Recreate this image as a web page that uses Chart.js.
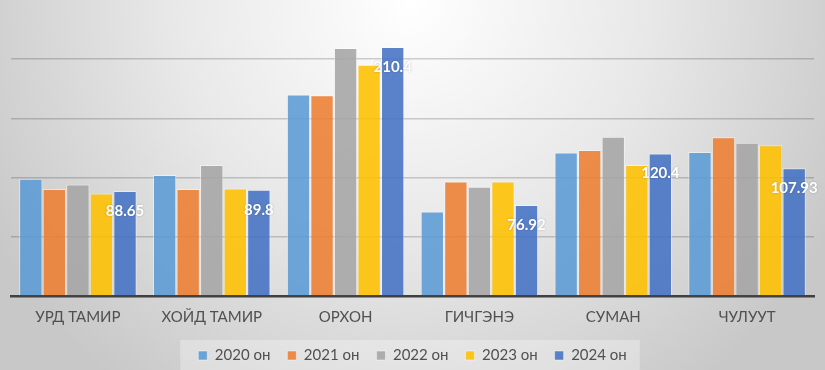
<!DOCTYPE html>
<html>
<head>
<meta charset="utf-8">
<script src="https://cdn.jsdelivr.net/npm/chart.js@4.4.0/dist/chart.umd.min.js"></script>
<style>
html,body{margin:0;padding:0;background:#d9d9d9;}
#wrap{width:825px;height:370px;position:relative;}
</style>
</head>
<body>
<div id="wrap"><canvas id="c" width="825" height="370"></canvas></div>
<script>
const categories = ["УРД ТАМИР", "ХОЙД ТАМИР", "ОРХОН", "ГИЧГЭНЭ", "СУМАН", "ЧУЛУУТ"];
const seriesNames = ["2020 он", "2021 он", "2022 он", "2023 он", "2024 он"];
const values2020 = [99.0, 102.1, 170.2, 71.3, 121.3, 121.6];
const values2021 = [90.3, 90.3, 169.6, 96.8, 123.3, 134.1];
const values2022 = [94.2, 110.6, 209.5, 92.2, 134.6, 129.5];
const values2023 = [86.6, 90.8, 195.3, 96.8, 110.6, 127.3];
const values2024 = [88.65, 89.8, 210.4, 76.92, 120.4, 107.93];
const yTicks = [0, 50, 100, 150, 200, 250];

const colors = ["rgba(91,155,213,0.88)", "rgba(237,125,49,0.88)", "rgba(165,165,165,0.88)", "rgba(255,192,0,0.88)", "rgba(68,114,196,0.88)"];
const allValues = [values2020, values2021, values2022, values2023, values2024];

const bgPlugin = {
  id: 'bg',
  beforeDraw(chart) {
    const ctx = chart.ctx;
    const w = chart.width, h = chart.height;
    ctx.save();
    const g = ctx.createRadialGradient(410, 0, 0, 410, 0, 480);
    g.addColorStop(0, '#ffffff');
    g.addColorStop(0.5, '#e8e8e8');
    g.addColorStop(1, '#c8c8c8');
    ctx.fillStyle = g;
    ctx.fillRect(0, 0, w, h);
    const hb = chart.legend && chart.legend.legendHitBoxes;
    if (hb && hb.length) {
      const l = Math.min(...hb.map(b => b.left)) - 18;
      const r = Math.max(...hb.map(b => b.left + b.width)) + 13;
      ctx.fillStyle = 'rgba(255,255,255,0.3)';
      ctx.fillRect(l, 340, r - l, 30);
    }
    ctx.restore();
  }
};

const labelPlugin = {
  id: 'lastLabels',
  afterDatasetsDraw(chart) {
    const ctx = chart.ctx;
    const meta = chart.getDatasetMeta(4);
    ctx.save();
    ctx.font = 'bold 15px Lato, "Open Sans", sans-serif';
    ctx.fillStyle = '#ffffff';
    ctx.textAlign = 'center';
    ctx.textBaseline = 'middle';
    ctx.shadowColor = 'rgba(0,0,0,0.25)';
    ctx.shadowBlur = 2;
    meta.data.forEach((bar, i) => {
      ctx.fillText(String(values2024[i]), bar.x, bar.y + 20);
    });
    ctx.restore();
  }
};

new Chart(document.getElementById('c'), {
  type: 'bar',
  data: {
    labels: categories,
    datasets: seriesNames.map((n, i) => ({
      label: n,
      data: allValues[i],
      backgroundColor: colors[i],
      borderColor: 'rgba(255,255,255,0.45)',
      borderWidth: 1,
      categoryPercentage: 0.88,
      barPercentage: 0.99
    }))
  },
  options: {
    responsive: false,
    animation: false,
    devicePixelRatio: 1,
    layout: { padding: { left: 11, right: 11, top: 0, bottom: -3 } },
    scales: {
      x: {
        grid: { display: false, drawTicks: false },
        border: { display: true, color: '#404040', width: 2.5 },
        ticks: { color: '#505050', font: { family: 'Lato, "Open Sans", sans-serif', size: 15 }, padding: 12, maxRotation: 0 },
        afterFit(s) { s.height = 35; }
      },
      y: {
        min: 0, max: 250,
        afterBuildTicks(s) { s.ticks = yTicks.map(v => ({ value: v })); },
        ticks: { display: false },
        border: { display: false },
        grid: {
          drawTicks: false,
          lineWidth: 1.5,
          color: (c) => (c.tick && (c.tick.value === 0 || c.tick.value === 250)) ? 'rgba(0,0,0,0)' : 'rgba(0,0,0,0.18)'
        },
        afterFit(s) { s.width = 0; }
      }
    },
    plugins: {
      legend: {
        position: 'bottom',
        labels: {
          boxWidth: 9, boxHeight: 9, padding: 17,
          color: '#505050',
          font: { family: 'Lato, "Open Sans", sans-serif', size: 15 }
        }
      },
      tooltip: { enabled: false }
    }
  },
  plugins: [bgPlugin, labelPlugin]
});
</script>
</body>
</html>
